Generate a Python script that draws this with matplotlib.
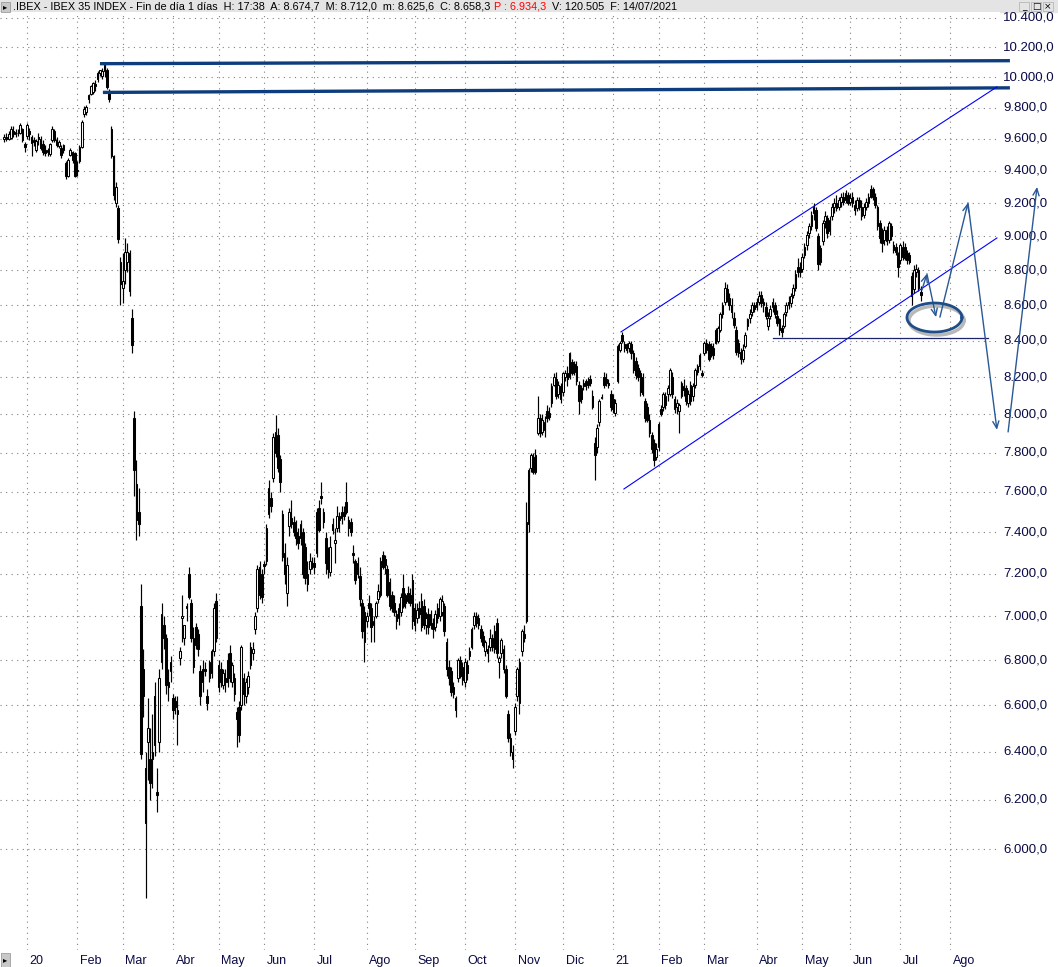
import matplotlib
matplotlib.use('Agg')
import matplotlib.pyplot as plt
import numpy as np
import pandas as pd
from matplotlib.patches import Rectangle

# daily OHLC, .IBEX, 16/12/2019 - 14/07/2021 (one line per month)
opens = [
    9600, 9615, 9600, 9605, 9650, 9630, 9640, 9640, 9660, 9565,
    9620, 9650, 9610, 9590, 9530, 9615, 9600, 9570, 9530, 9520, 9505, 9590, 9650, 9590, 9555, 9540, 9530, 9450, 9370, 9500, 9470, 9510,
    9400, 9460, 9550, 9760, 9770, 9860, 9890, 9900, 9940, 9990, 10030, 10010, 10040, 10050, 9900, 9660, 9490, 9200, 9170, 8850,
    8700, 8800, 8850, 8900, 8530, 7980, 7640, 7500, 7050, 6760, 6330, 6440, 6370, 6370, 6640, 6230, 6440, 6790, 6960, 6900, 6700, 6750,
    6630, 6620, 6560, 6810, 6990, 6900, 7040, 7200, 7060, 6900, 6950, 6920, 6750, 6700, 6760, 6640, 6720, 6740, 6840, 7070,
    6780, 6760, 6690, 6720, 6800, 6830, 6700, 6720, 6570, 6590, 6600, 6720, 6640, 6680, 6780, 6830, 6940, 7040, 7230, 7200,
    7245, 7260, 7490, 7570, 7670, 7800, 7890, 7770, 7490, 7300, 7110, 7430, 7470, 7450, 7400, 7380, 7370, 7400, 7330, 7200, 7220, 7250,
    7250, 7300, 7520, 7580, 7500, 7370, 7300, 7210, 7410, 7350, 7420, 7460, 7470, 7500, 7550, 7460, 7450, 7300, 7260, 7200, 7190, 7060, 6880,
    6980, 7060, 7040, 6960, 7000, 7080, 7100, 7290, 7270, 7220, 7160, 7100, 7060, 7010, 6990, 7020, 7130, 7060, 7110, 7100, 7170,
    7040, 6990, 7040, 7070, 7050, 6960, 7010, 6960, 6970, 6950, 6990, 7000, 7020, 7050, 6880, 6770, 6750, 6680, 6580, 6720, 6800, 6710,
    6700, 6780, 6820, 6860, 6960, 7000, 6990, 6940, 6910, 6840, 6850, 6860, 6900, 6850, 6970, 6790, 6830, 6850, 6760, 6560, 6460, 6400,
    6490, 6640, 6610, 6840, 6920, 6980, 7440, 7720, 7780, 7700, 7900, 7980, 7910, 7920, 8020, 8010, 8060, 8160, 8190, 8110, 8150,
    8120, 8200, 8220, 8200, 8280, 8270, 8260, 8160, 8140, 8170, 8150, 8180, 8190, 8100, 7850, 7830, 7960, 8090, 8200, 8190, 8170, 8110,
    8080, 8010, 8180, 8350, 8430, 8380, 8350, 8360, 8380, 8330, 8290, 8250, 8220, 8200, 8070, 8040, 7970, 7890, 7850, 7780,
    7830, 8030, 8040, 8050, 8110, 8110, 8200, 8080, 8040, 8020, 8100, 8150, 8140, 8060, 8070, 8100, 8160, 8230, 8260, 8220,
    8330, 8350, 8380, 8370, 8360, 8390, 8400, 8460, 8550, 8620, 8690, 8640, 8600, 8530, 8460, 8390, 8340, 8300, 8370, 8480, 8530, 8560, 8600,
    8590, 8620, 8660, 8600, 8590, 8480, 8540, 8590, 8600, 8540, 8520, 8470, 8480, 8560, 8600, 8610, 8660, 8700, 8790, 8820,
    8810, 8890, 8950, 9020, 9060, 9140, 9160, 9000, 8850, 8970, 9090, 9110, 9030, 9120, 9180, 9200, 9180, 9210, 9240, 9220, 9250,
    9210, 9240, 9190, 9170, 9220, 9180, 9130, 9180, 9200, 9240, 9290, 9240, 9180, 9080, 9030, 8980, 9040, 8980, 9060, 8950, 8940, 8900,
    8860, 8880, 8940, 8900, 8890, 8770, 8690, 8790, 8800, 8674.7,
]
highs = [
    9630, 9640, 9650, 9680, 9680, 9660, 9660, 9700, 9670, 9580,
    9700, 9670, 9625, 9610, 9600, 9640, 9620, 9590, 9560, 9545, 9575, 9680, 9665, 9610, 9590, 9560, 9570, 9460, 9480, 9540, 9525, 9520,
    9460, 9560, 9720, 9810, 9820, 9890, 9950, 9970, 9980, 10040, 10050, 10060, 10090, 10060, 9920, 9680, 9500, 9330, 9190, 8880,
    8900, 8990, 8960, 8920, 8580, 8020, 7760, 7620, 7150, 6850, 6400, 6630, 6500, 6560, 6700, 6330, 6760, 7060, 7000, 6920, 6760, 6820,
    6650, 6640, 6640, 6860, 7100, 6960, 7060, 7230, 7080, 6950, 6970, 6940, 6780, 6800, 6790, 6670, 6800, 6850, 7060, 7110,
    6800, 6790, 6760, 6760, 6830, 6870, 6790, 6740, 6590, 6620, 6870, 6740, 6720, 6750, 6880, 6880, 7020, 7240, 7260, 7220,
    7260, 7440, 7660, 7600, 7900, 7995, 7930, 7790, 7510, 7350, 7280, 7520, 7560, 7480, 7460, 7420, 7460, 7420, 7350, 7260, 7300, 7280,
    7280, 7520, 7560, 7650, 7520, 7400, 7330, 7380, 7470, 7420, 7530, 7500, 7530, 7530, 7650, 7480, 7470, 7340, 7270, 7280, 7230, 7080, 7050,
    7020, 7100, 7060, 7000, 7070, 7150, 7280, 7310, 7290, 7240, 7180, 7120, 7100, 7030, 7060, 7110, 7200, 7110, 7140, 7130, 7200,
    7060, 7060, 7070, 7110, 7080, 7020, 7040, 7030, 6990, 7030, 7060, 7090, 7100, 7060, 6900, 6800, 6770, 6700, 6640, 6810, 6820, 6790,
    6810, 6800, 6860, 6950, 7020, 7020, 7010, 6960, 6930, 6890, 6870, 6940, 6920, 6960, 6990, 6820, 6900, 6870, 6780, 6580, 6480, 6430,
    6610, 6770, 6810, 6940, 6960, 7550, 7720, 7800, 7800, 7820, 8100, 8000, 8000, 7990, 8050, 8040, 8170, 8220, 8230, 8180, 8170,
    8230, 8240, 8260, 8340, 8300, 8290, 8290, 8180, 8160, 8190, 8190, 8200, 8210, 8130, 7880, 7950, 8080, 8110, 8230, 8220, 8190, 8130,
    8110, 8080, 8380, 8400, 8450, 8400, 8390, 8400, 8400, 8350, 8310, 8270, 8240, 8220, 8090, 8060, 8000, 7910, 7870, 7850,
    7960, 8050, 8120, 8120, 8160, 8250, 8230, 8100, 8080, 8060, 8180, 8190, 8160, 8130, 8180, 8170, 8250, 8270, 8330, 8240,
    8400, 8410, 8400, 8390, 8390, 8470, 8480, 8560, 8620, 8730, 8720, 8670, 8640, 8560, 8480, 8410, 8360, 8380, 8450, 8530, 8580, 8620, 8620,
    8640, 8680, 8680, 8640, 8620, 8560, 8600, 8640, 8620, 8570, 8530, 8490, 8560, 8620, 8650, 8670, 8720, 8800, 8870, 8850,
    8900, 8960, 9030, 9080, 9150, 9200, 9180, 9020, 8950, 9100, 9150, 9130, 9120, 9200, 9230, 9250, 9240, 9260, 9270, 9280, 9270,
    9260, 9270, 9220, 9240, 9240, 9220, 9200, 9230, 9260, 9310, 9300, 9260, 9190, 9100, 9050, 9060, 9060, 9090, 9080, 8970, 8960, 8910,
    8960, 8970, 8960, 8920, 8910, 8790, 8830, 8840, 8820, 8712.0,
]
lows = [
    9580, 9585, 9590, 9600, 9610, 9610, 9620, 9630, 9580, 9520,
    9600, 9590, 9490, 9555, 9515, 9560, 9530, 9500, 9490, 9495, 9495, 9580, 9580, 9550, 9540, 9480, 9510, 9350, 9360, 9490, 9450, 9360,
    9365, 9450, 9540, 9740, 9750, 9830, 9880, 9890, 9910, 9970, 10010, 9990, 10000, 9920, 9840, 9480, 9220, 9180, 8960, 8600,
    8610, 8720, 8790, 8650, 8330, 7580, 7360, 7380, 6370, 6550, 5810, 6280, 6200, 6250, 6380, 6150, 6400, 6760, 6850, 6650, 6620, 6700,
    6540, 6560, 6430, 6780, 6880, 6870, 6980, 7080, 6880, 6740, 6850, 6820, 6600, 6660, 6730, 6580, 6700, 6720, 6820, 6880,
    6660, 6680, 6670, 6660, 6680, 6700, 6680, 6620, 6420, 6440, 6580, 6600, 6610, 6650, 6760, 6800, 6920, 7020, 7080, 7060,
    7200, 7240, 7470, 7500, 7650, 7780, 7700, 7600, 7260, 7150, 7050, 7380, 7420, 7380, 7340, 7320, 7340, 7180, 7150, 7120, 7200, 7220,
    7200, 7280, 7400, 7540, 7420, 7200, 7180, 7190, 7390, 7250, 7400, 7400, 7440, 7460, 7490, 7380, 7380, 7250, 7150, 7180, 7050, 6900, 6790,
    6950, 7000, 6880, 6880, 6990, 7060, 7090, 7220, 7200, 7090, 7030, 7020, 7000, 6940, 6960, 7000, 7040, 7040, 7060, 7050, 6940,
    6930, 6970, 6990, 6930, 6940, 6920, 6920, 6940, 6900, 6930, 6970, 6980, 7000, 6910, 6730, 6690, 6640, 6630, 6550, 6700, 6720, 6690,
    6680, 6710, 6800, 6850, 6940, 6950, 6940, 6880, 6860, 6820, 6790, 6840, 6840, 6830, 6810, 6720, 6810, 6740, 6630, 6440, 6380, 6330,
    6470, 6620, 6560, 6820, 6880, 6970, 7400, 7700, 7690, 7690, 7890, 7880, 7890, 7880, 7960, 7970, 8040, 8150, 8080, 8090, 8060,
    8100, 8180, 8150, 8190, 8210, 8210, 8160, 8000, 8060, 8130, 8130, 8140, 8150, 8030, 7660, 7800, 7940, 8080, 8140, 8150, 8140, 8020,
    8010, 7990, 8170, 8340, 8390, 8340, 8330, 8340, 8300, 8220, 8190, 8180, 8100, 8100, 7960, 7960, 7880, 7800, 7730, 7760,
    7810, 7990, 8020, 8030, 8070, 8100, 8090, 8010, 8000, 7900, 8090, 8100, 8050, 8040, 8050, 8070, 8140, 8210, 8240, 8200,
    8320, 8330, 8290, 8310, 8300, 8380, 8390, 8450, 8530, 8600, 8620, 8570, 8530, 8470, 8320, 8310, 8270, 8280, 8360, 8460, 8500, 8540, 8560,
    8570, 8600, 8590, 8560, 8520, 8460, 8520, 8560, 8530, 8480, 8430, 8420, 8470, 8540, 8580, 8590, 8640, 8680, 8760, 8760,
    8790, 8870, 8920, 8990, 9040, 9100, 9030, 8800, 8830, 8950, 9050, 8990, 9010, 9100, 9140, 9150, 9160, 9180, 9190, 9200, 9190,
    9190, 9180, 9130, 9150, 9160, 9100, 9110, 9160, 9180, 9230, 9220, 9170, 9040, 8960, 8910, 8950, 8950, 8960, 8980, 8900, 8890, 8760,
    8840, 8860, 8860, 8840, 8840, 8600, 8670, 8760, 8680, 8625.6,
]
closes = [
    9615, 9600, 9630, 9665, 9630, 9645, 9640, 9690, 9590, 9550,
    9690, 9630, 9575, 9580, 9585, 9600, 9545, 9515, 9510, 9530, 9565, 9660, 9590, 9560, 9580, 9500, 9560, 9366, 9470, 9530, 9515, 9370,
    9405, 9550, 9710, 9795, 9805, 9880, 9940, 9960, 9955, 10030, 10045, 10040, 10080, 9935, 9860, 9490, 9250, 9300, 8985, 8720,
    8740, 8910, 8910, 8680, 8375, 7710, 7460, 7440, 6390, 6640, 6105, 6500, 6270, 6400, 6430, 6220, 6720, 7010, 6900, 6690, 6680, 6790,
    6580, 6590, 6580, 6840, 7000, 6960, 7050, 7090, 6900, 6770, 6870, 6850, 6640, 6760, 6750, 6610, 6790, 6840, 7040, 6900,
    6680, 6700, 6740, 6700, 6700, 6720, 6780, 6650, 6540, 6470, 6860, 6650, 6700, 6730, 6860, 6850, 7000, 7220, 7100, 7090,
    7235, 7420, 7620, 7530, 7880, 7910, 7720, 7650, 7280, 7200, 7240, 7500, 7440, 7400, 7370, 7350, 7440, 7200, 7180, 7150, 7260, 7235,
    7230, 7500, 7410, 7570, 7450, 7250, 7220, 7330, 7440, 7360, 7480, 7480, 7500, 7480, 7500, 7420, 7400, 7290, 7170, 7250, 7080, 6930, 7020,
    7000, 7040, 6950, 6980, 7060, 7120, 7260, 7230, 7240, 7100, 7050, 7040, 7020, 6980, 7040, 7090, 7050, 7100, 7070, 7060, 6980,
    6960, 7030, 7010, 6950, 6960, 6990, 6950, 7010, 6940, 7010, 7040, 7080, 7070, 6930, 6760, 6720, 6660, 6650, 6630, 6800, 6730, 6770,
    6790, 6740, 6840, 6940, 7000, 6970, 6960, 6900, 6870, 6880, 6830, 6900, 6860, 6930, 6830, 6810, 6890, 6760, 6640, 6460, 6400, 6370,
    6590, 6760, 6790, 6930, 6900, 7450, 7710, 7790, 7700, 7790, 7980, 7900, 7970, 7960, 7980, 7985, 8150, 8200, 8100, 8160, 8080,
    8220, 8220, 8190, 8330, 8220, 8230, 8180, 8070, 8080, 8150, 8180, 8160, 8170, 8040, 7790, 7930, 8070, 8095, 8160, 8170, 8160, 8040,
    8030, 8060, 8370, 8390, 8400, 8360, 8380, 8390, 8330, 8240, 8210, 8200, 8120, 8110, 7980, 7970, 7900, 7820, 7760, 7820,
    7950, 8000, 8110, 8100, 8140, 8240, 8110, 8030, 8060, 8050, 8170, 8130, 8070, 8110, 8160, 8150, 8240, 8260, 8320, 8210,
    8390, 8390, 8300, 8330, 8320, 8460, 8470, 8550, 8600, 8700, 8640, 8600, 8560, 8490, 8340, 8330, 8300, 8350, 8430, 8520, 8550, 8600, 8580,
    8620, 8650, 8610, 8620, 8540, 8530, 8580, 8620, 8550, 8500, 8460, 8450, 8550, 8600, 8620, 8650, 8700, 8780, 8820, 8790,
    8880, 8940, 9010, 9060, 9130, 9180, 9050, 8840, 8930, 9080, 9120, 9020, 9100, 9180, 9200, 9170, 9220, 9240, 9210, 9260, 9200,
    9230, 9200, 9160, 9220, 9180, 9120, 9180, 9210, 9240, 9290, 9240, 9190, 9060, 8990, 8960, 9040, 8970, 9080, 9000, 8920, 8910, 8820,
    8950, 8940, 8870, 8860, 8850, 8650, 8800, 8810, 8700, 8658.3,
]

holidays = ['2019-12-25', '2019-12-26', '2020-01-01', '2020-04-10', '2020-04-13', '2020-05-01',
            '2020-12-25', '2021-01-01', '2021-04-02', '2021-04-05']
month_names = ['', 'Feb', 'Mar', 'Abr', 'May', 'Jun', 'Jul', 'Ago', 'Sep', 'Oct', 'Nov', 'Dic']
price_levels = list(range(6000, 10401, 200))

# drawings on the chart (x in trading days from 16/12/2019, y in index points)
thick_lines = [((42.0, 10090), (441.1, 10110)), ((43.3, 9900), (441.1, 9930))]
channel = [((270.5, 8449), (435.4, 9936)), ((271.8, 7615), (435.4, 8991))]
support = ((337.2, 8415), (431.5, 8415))
arrows = [((402.5, 8686), (404.7, 8780)), ((404.7, 8780), (408.7, 8532)),
          ((410.4, 8532), (422.7, 9202)), ((422.7, 9202), (435.4, 7919)),
          ((440.3, 7908), (453.0, 9300))]
circle_center = (408.0, 8530)

W, H = 1058, 967
fig = plt.figure(figsize=(W / 100, H / 100), dpi=100)
ax = fig.add_axes([0, (H - 950) / H, 1000 / W, (950 - 12) / H])
ax.set_yscale('log')
ax.set_xlim(-1.84, 436.75)
ax.set_ylim(5613, 10441)
for s in ax.spines.values():
    s.set_visible(False)
ax.set_xticks([])
ax.set_yticks([])
ax.yaxis.set_minor_locator(matplotlib.ticker.NullLocator())

dots = (0, (1, 4))
grid_col = '#808080'
lab_col = '#0a0a46'
font = 'Liberation Sans'

# trading calendar
dates = pd.bdate_range('2019-12-16', '2021-09-10')
dates = dates[~dates.isin(pd.to_datetime(holidays))]
n = len(closes)
x = np.arange(n)

# month grid + labels
for i in range(1, len(dates)):
    if dates[i].month != dates[i - 1].month and i < 436.75:
        ax.axvline(i, color=grid_col, lw=0.8, ls=dots, zorder=0)
        m = dates[i].month
        lab = dates[i].strftime('%y') if m == 1 else month_names[m - 1]
        ax.text(i + 1.2, -0.012, lab, transform=ax.get_xaxis_transform(), ha='left', va='center',
                fontsize=9, color=lab_col, family=font, clip_on=False)

# price grid + labels
for v in price_levels:
    ax.axhline(v, color=grid_col, lw=0.8, ls=dots, zorder=0)
    txt = f"{v:,.1f}".replace(',', 'X').replace('.', ',').replace('X', '.')
    ax.text(1.003, v, txt, transform=ax.get_yaxis_transform(), ha='left', va='center',
            fontsize=9.5, color=lab_col, family=font, clip_on=False)

# candles
o = np.array(opens); h = np.array(highs); l = np.array(lows); c = np.array(closes)
up = c >= o
ax.vlines(x, l, h, color='black', lw=0.85, zorder=2)
ax.bar(x[up], c[up] - o[up], bottom=o[up], width=0.72, facecolor='white', edgecolor='black', lw=0.75, zorder=3)
ax.bar(x[~up], o[~up] - c[~up], bottom=c[~up], width=0.72, facecolor='black', edgecolor='black', lw=0.75, zorder=3)

# drawings
for (x0, y0), (x1, y1) in thick_lines:
    ax.plot([x0, x1], [y0, y1], color='#0d3d7c', lw=2.4, solid_capstyle='butt', clip_on=False, zorder=4)
for (x0, y0), (x1, y1) in channel:
    ax.plot([x0, x1], [y0, y1], color='#0000ff', lw=0.8, zorder=4)
ax.plot([support[0][0], support[1][0]], [support[0][1], support[1][1]], color='#1c2470', lw=0.9, zorder=4)
for (x0, y0), (x1, y1) in arrows:
    ax.annotate('', xy=(x1, y1), xytext=(x0, y0), annotation_clip=False,
                arrowprops=dict(arrowstyle='->,head_length=0.5,head_width=0.22', color='#2a5896', lw=1.0,
                                shrinkA=0, shrinkB=0), zorder=5)

t = np.linspace(0, 2 * np.pi, 200)
cx, cy = circle_center
ax.plot(cx + 0.9 + 12.06 * np.cos(t), cy * np.exp(-3 / 1511 + 0.0096 * np.sin(t)), color='#b8b8b8', lw=2.5, zorder=4)
ax.plot(cx + 12.06 * np.cos(t), cy * np.exp(0.0096 * np.sin(t)), color='#1f4d88', lw=2.0, zorder=5)

# title bar
fig.add_artist(Rectangle((0, 1 - 12 / H), 1, 12 / H, transform=fig.transFigure, color='#e4e4e4', zorder=0))
fig.add_artist(Rectangle((0.5 / W, 1 - 12 / H), 9 / W, 10 / H, transform=fig.transFigure,
                         facecolor='#c8c8c8', edgecolor='#909090', lw=0.5))
fig.text(2.5 / W, 1 - 7 / H, '▸', fontsize=6, va='center', ha='left', color='black')
ty = 1 - 6.5 / H
parts = [('.IBEX - IBEX 35 INDEX - Fin de día 1 días  H: 17:38  A: 8.674,7  M: 8.712,0  m: 8.625,6  C: 8.658,3', 'black', 13),
         ('P : 6.934,3', '#ff0000', 4), ('V: 120.505  F: 14/07/2021', 'black', 5)]
renderer = fig.canvas.get_renderer()
xpos = 0
for s, col, gap in parts:
    xpos += gap
    tt = fig.text(xpos / W, ty, s, fontsize=7.8, va='center', ha='left', family=font, color=col)
    xpos = tt.get_window_extent(renderer).x1

# window buttons
for bx, sym in [(1019, '_'), (1031, '□'), (1043, '×')]:
    fig.add_artist(Rectangle((bx / W, 1 - 11 / H), 10 / W, 9 / H, transform=fig.transFigure,
                             facecolor='#e4e4e4', edgecolor='#a0a0a0', lw=0.4))
    fig.text((bx + 5) / W, 1 - 6.5 / H, sym, fontsize=6.5, va='center', ha='center', color='black')

# bottom-left button
fig.add_artist(Rectangle((0.5 / W, 0.5 / H), 9 / W, 14 / H, transform=fig.transFigure,
                         facecolor='#c8c8c8', edgecolor='#909090', lw=0.5))
fig.text(2.5 / W, 7.5 / H, '▸', fontsize=6, va='center', ha='left', color='black')

fig.savefig('out.png', dpi=100, facecolor='white')
